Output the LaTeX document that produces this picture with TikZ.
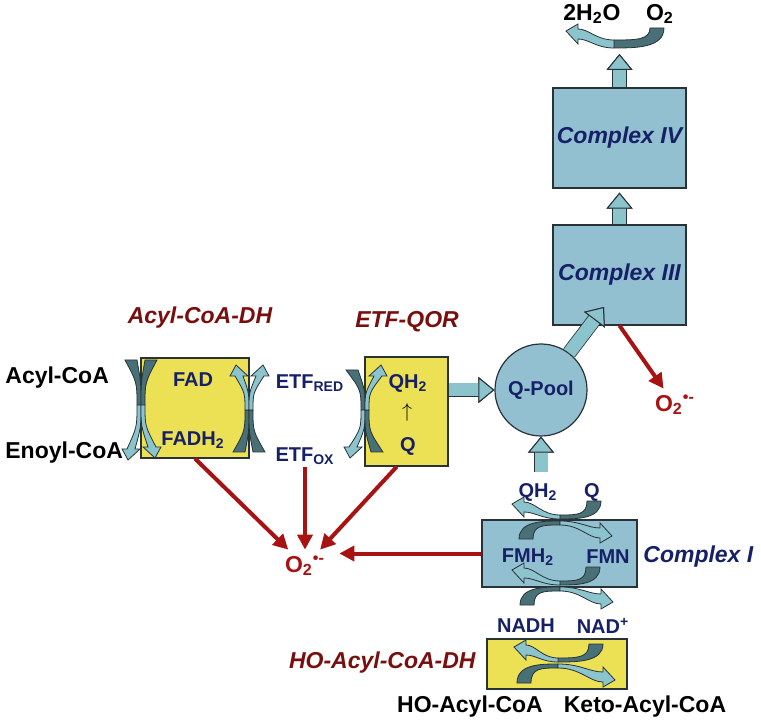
\documentclass[tikz,border=0pt]{standalone}
\usepackage{fontspec}
\setmainfont{Liberation Sans}
\usetikzlibrary{arrows.meta}
\definecolor{boxyellow}{RGB}{236,224,84}
\definecolor{boxblue}{RGB}{146,192,209}
\definecolor{labelnavy}{RGB}{22,32,102}
\definecolor{enzymered}{RGB}{120,14,14}
\definecolor{roxred}{RGB}{168,18,18}
\definecolor{taildark}{RGB}{72,112,118}
\definecolor{headlight}{RGB}{140,196,206}
\definecolor{edgegray}{RGB}{40,50,55}

\tikzset{
  ybox/.style={draw=edgegray, line width=0.6pt, fill=boxyellow, inner sep=0pt},
  bbox/.style={draw=edgegray, line width=0.6pt, fill=boxblue, inner sep=0pt},
  cofac/.style={text=labelnavy, font=\fontsize{10}{12}\selectfont\bfseries, inner sep=1pt},
  metab/.style={text=black, font=\fontsize{11.5}{13}\selectfont\bfseries, inner sep=1pt},
  enzlbl/.style={text=enzymered, font=\fontsize{11.5}{13}\selectfont\bfseries\itshape, inner sep=1pt},
  cplxlbl/.style={text=labelnavy, font=\fontsize{11.5}{13}\selectfont\bfseries\itshape},
  roxlbl/.style={text=roxred, font=\fontsize{11.5}{13}\selectfont\bfseries, inner sep=3pt},
  redarr/.style={draw=roxred, line width=2pt, -{Triangle[length=7.5pt,width=7.5pt]}},
  blockarr/.style={draw=headlight, line width=6.5pt,
    preaction={draw=edgegray, line width=7.3pt},
    -{Triangle[length=8pt,width=13pt,fill=headlight,color=edgegray,line width=0.5pt]}},
  tailfill/.style={fill=taildark, draw=edgegray, line width=0.4pt},
  headfill/.style={fill=headlight, draw=edgegray, line width=0.4pt}
}
% curved half-arrows: tail (#1,#2), touch point (#3,#4), head base (#5,#6), half width at touch #7
\newcommand{\vbend}[7]{%
  \filldraw[tailfill] ({#1-6},#2) .. controls ({#3-#7},{(#2+#4)/2}) .. ({#3-#7},#4)
    -- ({#3+#7},#4) .. controls ({#3+#7},{(#2+#4)/2}) .. ({#1+6},#2) -- cycle;
  \filldraw[headfill] ({#3-#7},#4) .. controls ({#3-#7},{(#4+#6)/2}) .. ({#5-4},#6)
    -- ({#5-9},#6) -- ({#5+3*sign(#5-#3)},{#6+11*sign(#6-#4)}) -- ({#5+9},#6) -- ({#5+4},#6)
    .. controls ({#3+#7},{(#4+#6)/2}) .. ({#3+#7},#4) -- cycle;}
\newcommand{\hbend}[7]{%
  \filldraw[tailfill] ({#1+7*sign(#1-#3)},#2)
    .. controls ({#1+7*sign(#1-#3)},{#4+#7*sign(#4-#2)}) and ({(#1+#3)/2},{#4+#7*sign(#4-#2)}) .. (#3,{#4+#7*sign(#4-#2)})
    -- (#3,{#4-#7*sign(#4-#2)})
    .. controls ({(#1+#3)/2},{#4-#7*sign(#4-#2)}) and ({#1-7*sign(#1-#3)},{#4-#7*sign(#4-#2)}) .. ({#1-7*sign(#1-#3)},#2) -- cycle;
  \filldraw[headfill] (#3,{#4-#7})
    .. controls ({(#3+#5)/2},{#4-#7}) and ({#5+0.3*(#3-#5)},{#6-5}) .. (#5,{#6-5})
    -- (#5,{#6-10}) -- ({#5+12*sign(#5-#3)},{#6+3*sign(#6-#4)}) -- (#5,{#6+10}) -- (#5,{#6+5})
    .. controls ({#5+0.3*(#3-#5)},{#6+5}) and ({(#3+#5)/2},{#4+#7}) .. (#3,{#4+#7}) -- cycle;}

\begin{document}
\begin{tikzpicture}[x=0.5pt,y=-0.5pt]
  \useasboundingbox (0,0) rectangle (761,727);

  % enzymes and complexes
  \node[ybox, minimum width=54pt, minimum height=50pt] (acdh) at (195,408) {};
  \node[ybox, minimum width=41.5pt, minimum height=54.5pt] (etfqor) at (406.5,411.5) {};
  \node[ybox, minimum width=70pt, minimum height=25pt] (hoacdh) at (557,664) {};
  \node[bbox, minimum width=77.5pt, minimum height=33.5pt] (c1) at (559.5,553.5) {};
  \node[bbox, cplxlbl, minimum width=66.5pt, minimum height=50pt] (c3) at (619.5,275) {Complex III};
  \node[bbox, cplxlbl, minimum width=66.5pt, minimum height=50pt] (c4) at (619.5,138) {Complex IV};
  \node[bbox, cofac, circle, minimum size=46pt] (qpool) at (541,390) {Q-Pool};

  % enzyme names
  \node[enzlbl] (acdhname) at (200,318) {Acyl-CoA-DH};
  \node[enzlbl] (etfqorname) at (407,322) {ETF-QOR};
  \node[enzlbl, anchor=east] (hoacdhname) at (478,663) {HO-Acyl-CoA-DH};
  \node[cplxlbl, anchor=west, inner sep=1pt] (c1name) at (641,557) {Complex I};

  % substrates and cofactors
  \node[metab, anchor=west] (acylcoa) at (3,378) {Acyl-CoA};
  \node[metab, anchor=west] (enoylcoa) at (3,453) {Enoyl-CoA};
  \node[cofac] (fad) at (193,380) {FAD};
  \node[cofac] (fadh) at (193,440) {FADH\textsubscript{2}};
  \node[cofac] (etfred) at (310,383) {ETF\textsubscript{RED}};
  \node[cofac] (etfox) at (305,456) {ETF\textsubscript{OX}};
  \node[cofac] (qh) at (408,383) {QH\textsubscript{2}};
  \node[inner sep=1pt] (qarrow) at (407,413) {$\uparrow$};
  \node[cofac] (qq) at (408,446) {Q};
  \node[cofac] (qhc1) at (538,492) {QH\textsubscript{2}};
  \node[cofac] (qc1) at (592,492) {Q};
  \node[cofac] (fmnh) at (528,557) {FMH\textsubscript{2}};
  \node[cofac] (fmn) at (608,557) {FMN};
  \node[cofac] (nadh) at (526,626) {NADH};
  \node[cofac] (nad) at (603,626) {NAD\textsuperscript{+}};
  \node[metab] (hoacyl) at (470,707) {HO-Acyl-CoA};
  \node[metab] (ketoacyl) at (645,707) {Keto-Acyl-CoA};
  \node[metab] (water) at (592,14) {2H\textsubscript{2}O};
  \node[metab] (oxy) at (660,14) {O\textsubscript{2}};
  \node[roxlbl] (roxleft) at (305,566) {O\textsubscript{2}\textsuperscript{•-}};
  \node[roxlbl] (roxright) at (675,405) {O\textsubscript{2}\textsuperscript{•-}};

  % electron flow
  \coordinate (c1top) at (541,472);
  \coordinate (c3in) at (604,307);
  \coordinate (c4out) at (619.5,54);
  \draw[blockarr] (etfqor.east |- qpool.west) -- (qpool.west);
  \draw[blockarr] (c1top) -- (qpool.south);
  \draw[blockarr] (qpool) -- (c3in);
  \draw[blockarr] (c3.north) -- ([yshift=-2pt]c4.south);
  \draw[blockarr] (c4.north) -- (c4out);

  % superoxide leaks
  \draw[redarr] (acdh.south) -- (roxleft);
  \draw[redarr] (etfox.south) -- (roxleft);
  \draw[redarr] (etfqor.260) -- (roxleft);
  \draw[redarr] (c1.west) -- ([xshift=4pt]roxleft.east |- c1.west);
  \draw[redarr] (c3.south) -- (roxright);

  % crossing arrows
  \vbend{131}{360}{139}{405}{131}{449}{2}
  \vbend{151}{360}{143}{405}{152}{447}{2}
  \vbend{239}{452}{247}{410}{239}{376}{2}
  \vbend{259}{452}{251}{410}{260}{376}{2}
  \vbend{352}{370}{363}{410}{353}{447}{2}
  \vbend{377}{452}{367}{410}{378}{376}{2}
  \hbend{594}{501}{560}{517}{524}{507}{2}
  \hbend{526}{539}{560}{523}{600}{533}{2}
  \hbend{593}{567}{560}{583}{524}{573}{2}
  \hbend{527}{605}{560}{589}{601}{599}{2}
  \hbend{596}{644}{558}{660}{526}{650}{2}
  \hbend{524}{683}{558}{666}{603}{677}{2}
  \hbend{657}{28}{614}{44}{578}{34}{4}
\end{tikzpicture}
\end{document}
